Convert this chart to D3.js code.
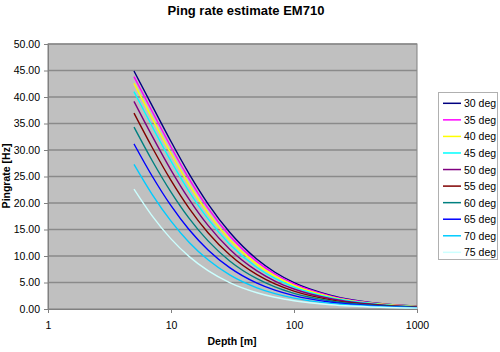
<!DOCTYPE html>
<html><head><meta charset="utf-8">
<script src="https://cdn.jsdelivr.net/npm/d3@7"></script>
<style>body{margin:0;background:#fff}svg{display:block;font-family:"Liberation Sans",Arial,sans-serif}</style>
</head><body><svg id="c" width="500" height="352"></svg>
<script>
const depths = [5, 7, 10, 14, 20, 30, 50, 70, 100, 200, 500, 1000];
const seriesNames = ["30 deg","35 deg","40 deg","45 deg","50 deg","55 deg","60 deg","65 deg","70 deg","75 deg"];
const s30 = [44.90,38.43,31.60,25.55,19.85,14.47,9.38,6.94,4.99,2.58,1.05,0.53];
const s35 = [43.85,37.36,30.57,24.61,19.04,13.82,8.93,6.60,4.74,2.44,1.00,0.50];
const s40 = [42.56,36.06,29.34,23.50,18.09,13.08,8.42,6.20,4.45,2.29,0.93,0.47];
const s45 = [41.02,34.52,27.89,22.21,17.01,12.23,7.83,5.76,4.13,2.12,0.86,0.43];
const s50 = [39.18,32.71,26.21,20.73,15.77,11.28,7.19,5.27,3.77,1.93,0.78,0.39];
const s55 = [36.97,30.57,24.27,19.04,14.39,10.23,6.48,4.74,3.38,1.73,0.70,0.35];
const s60 = [34.33,28.07,22.05,17.14,12.85,9.07,5.71,4.16,2.96,1.51,0.61,0.31];
const s65 = [31.15,25.14,19.49,15.00,11.15,7.81,4.88,3.55,2.52,1.28,0.52,0.26];
const s70 = [27.30,21.68,16.57,12.60,9.28,6.44,4.00,2.90,2.05,1.04,0.42,0.21];
const s75 = [22.60,17.61,13.23,9.93,7.23,4.97,3.06,2.21,1.56,0.79,0.32,0.16];
const seriesValues = [s30,s35,s40,s45,s50,s55,s60,s65,s70,s75];
const colors = ["#000080","#FF00FF","#FFFF00","#00FFFF","#800080","#800000","#008080","#0000FF","#00CCFF","#CCFFFF"];
const yTicks = [0,5,10,15,20,25,30,35,40,45,50];
const xTicks = [1,10,100,1000];

const svg = d3.select("#c");
const L=48, R=417, T=44, B=309;
const x = d3.scaleLog().domain([1,1000]).range([L,R]);
const y = d3.scaleLinear().domain([0,50]).range([B,T]);

svg.append("rect").attr("x",L).attr("y",T).attr("width",R-L).attr("height",B-T)
  .attr("fill","#C0C0C0").attr("stroke","#808080").attr("stroke-width",1);

svg.append("g").selectAll("line").data(yTicks.filter(v=>v>0)).join("line")
  .attr("x1",L).attr("x2",R).attr("y1",d=>y(d)).attr("y2",d=>y(d))
  .attr("stroke","#8a8a8a").attr("stroke-width",1.5);

const yAxis = svg.append("g").attr("transform",`translate(${L},0)`)
  .call(d3.axisLeft(y).tickValues(yTicks).tickFormat(d3.format(".2f")).tickSize(4).tickPadding(4));
yAxis.select(".domain").attr("stroke","#808080");
yAxis.selectAll(".tick line").attr("stroke","#808080");
yAxis.selectAll("text").attr("font-size",10.5).attr("fill","#000").attr("font-family","Liberation Sans, Arial");

const xAxis = svg.append("g").attr("transform",`translate(0,${B})`)
  .call(d3.axisBottom(x).tickValues(xTicks).tickFormat(d3.format("d")).tickSize(4).tickPadding(9));
xAxis.select(".domain").attr("stroke","#808080");
xAxis.selectAll(".tick line").attr("stroke","#808080");
xAxis.selectAll("text").attr("font-size",10.5).attr("fill","#000").attr("font-family","Liberation Sans, Arial");

const line = d3.line().x((d,i)=>x(depths[i])).y(d=>y(d)).curve(d3.curveMonotoneX);
svg.append("g").selectAll("path").data(seriesValues).join("path")
  .attr("d",line).attr("fill","none").attr("stroke",(d,i)=>colors[i]).attr("stroke-width",1.4);

svg.append("text").attr("x",246).attr("y",15).attr("text-anchor","middle")
  .attr("font-size",13).attr("font-weight","bold").text("Ping rate estimate EM710");
svg.append("text").attr("x",232).attr("y",345).attr("text-anchor","middle")
  .attr("font-size",10.5).attr("font-weight","bold").text("Depth [m]");
svg.append("text").attr("transform","translate(10,176) rotate(-90)").attr("text-anchor","middle")
  .attr("font-size",10.5).attr("font-weight","bold").text("Pingrate [Hz]");

const lg = svg.append("g");
lg.append("rect").attr("x",438.5).attr("y",92.5).attr("width",59).attr("height",167)
  .attr("fill","#fff").attr("stroke","#b0b0b0");
const items = lg.selectAll("g.it").data(seriesNames).join("g").attr("class","it")
  .attr("transform",(d,i)=>`translate(0,${103.3+i*16.56})`);
items.append("line").attr("x1",443).attr("x2",461).attr("y1",0).attr("y2",0)
  .attr("stroke",(d,i)=>colors[i]).attr("stroke-width",1.5);
items.append("text").attr("x",464).attr("y",4).attr("font-size",10.5).text(d=>d);
</script></body></html>
